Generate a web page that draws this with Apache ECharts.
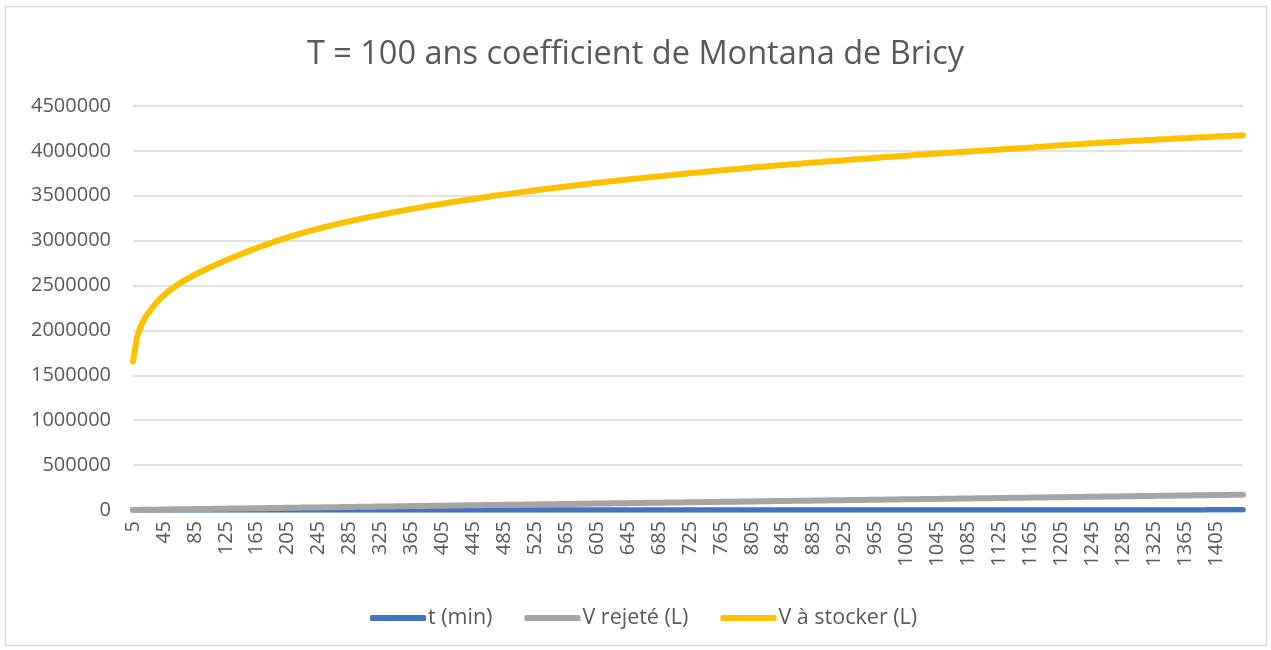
<!DOCTYPE html>
<html>
<head>
<meta charset="utf-8">
<script src="https://cdn.jsdelivr.net/npm/echarts@6/dist/echarts.min.js"></script>
<style>
html,body{margin:0;padding:0;background:#ffffff;}
#chart{width:1271px;height:650px;}
</style>
</head>
<body>
<div id="chart"></div>
<script>
const chartTitle = 'T = 100 ans coefficient de Montana de Bricy';
const seriesNames = ['t (min)', 'V rejeté (L)', 'V à stocker (L)'];

// t (min) categories
const tMinutes = [
5,10,15,20,25,30,35,40,45,50,
55,60,65,70,75,80,85,90,95,100,
105,110,115,120,125,130,135,140,145,150,
155,160,165,170,175,180,185,190,195,200,
205,210,215,220,225,230,235,240,245,250,
255,260,265,270,275,280,285,290,295,300,
305,310,315,320,325,330,335,340,345,350,
355,360,365,370,375,380,385,390,395,400,
405,410,415,420,425,430,435,440,445,450,
455,460,465,470,475,480,485,490,495,500,
505,510,515,520,525,530,535,540,545,550,
555,560,565,570,575,580,585,590,595,600,
605,610,615,620,625,630,635,640,645,650,
655,660,665,670,675,680,685,690,695,700,
705,710,715,720,725,730,735,740,745,750,
755,760,765,770,775,780,785,790,795,800,
805,810,815,820,825,830,835,840,845,850,
855,860,865,870,875,880,885,890,895,900,
905,910,915,920,925,930,935,940,945,950,
955,960,965,970,975,980,985,990,995,1000,
1005,1010,1015,1020,1025,1030,1035,1040,1045,1050,
1055,1060,1065,1070,1075,1080,1085,1090,1095,1100,
1105,1110,1115,1120,1125,1130,1135,1140,1145,1150,
1155,1160,1165,1170,1175,1180,1185,1190,1195,1200,
1205,1210,1215,1220,1225,1230,1235,1240,1245,1250,
1255,1260,1265,1270,1275,1280,1285,1290,1295,1300,
1305,1310,1315,1320,1325,1330,1335,1340,1345,1350,
1355,1360,1365,1370,1375,1380,1385,1390,1395,1400,
1405,1410,1415,1420,1425,1430,1435,1440
];

// V rejeté (L)
const vRejete = [
593,1185,1778,2370,2963,3555,4148,4740,5333,5925,
6518,7110,7703,8295,8888,9480,10073,10665,11258,11850,
12443,13035,13628,14220,14813,15405,15998,16590,17183,17775,
18368,18960,19553,20145,20738,21330,21923,22515,23108,23700,
24293,24885,25478,26070,26663,27255,27848,28440,29033,29625,
30218,30810,31403,31995,32588,33180,33773,34365,34958,35550,
36143,36735,37328,37920,38513,39105,39698,40290,40883,41475,
42068,42660,43253,43845,44438,45030,45623,46215,46808,47400,
47993,48585,49178,49770,50363,50955,51548,52140,52733,53325,
53918,54510,55103,55695,56288,56880,57473,58065,58658,59250,
59843,60435,61028,61620,62213,62805,63398,63990,64583,65175,
65768,66360,66953,67545,68138,68730,69323,69915,70508,71100,
71693,72285,72878,73470,74063,74655,75248,75840,76433,77025,
77618,78210,78803,79395,79988,80580,81173,81765,82358,82950,
83543,84135,84728,85320,85913,86505,87098,87690,88283,88875,
89468,90060,90653,91245,91838,92430,93023,93615,94208,94800,
95393,95985,96578,97170,97763,98355,98948,99540,100133,100725,
101318,101910,102503,103095,103688,104280,104873,105465,106058,106650,
107243,107835,108428,109020,109613,110205,110798,111390,111983,112575,
113168,113760,114353,114945,115538,116130,116723,117315,117908,118500,
119093,119685,120278,120870,121463,122055,122648,123240,123833,124425,
125018,125610,126203,126795,127388,127980,128573,129165,129758,130350,
130943,131535,132128,132720,133313,133905,134498,135090,135683,136275,
136868,137460,138053,138645,139238,139830,140423,141015,141608,142200,
142793,143385,143978,144570,145163,145755,146348,146940,147533,148125,
148718,149310,149903,150495,151088,151680,152273,152865,153458,154050,
154643,155235,155828,156420,157013,157605,158198,158790,159383,159975,
160568,161160,161753,162345,162938,163530,164123,164715,165308,165900,
166493,167085,167678,168270,168863,169455,170048,170640
];

// V à stocker (L)
const vStocker = [
1655000,1920000,2048000,2132000,2198000,2256000,2308000,2353000,2393000,2430000,
2463000,2494000,2522000,2549000,2574000,2598000,2621000,2643000,2664000,2685000,
2705000,2724000,2743000,2762000,2781000,2799000,2817000,2835000,2852000,2869000,
2886000,2903000,2919000,2935000,2950000,2965000,2980000,2995000,3009000,3023000,
3037000,3050000,3063000,3076000,3088000,3100000,3112000,3123000,3134000,3145000,
3156000,3166000,3176000,3187000,3197000,3206000,3216000,3226000,3235000,3244000,
3253000,3262000,3271000,3279000,3288000,3297000,3305000,3313000,3321000,3329000,
3337000,3345000,3353000,3360000,3368000,3375000,3383000,3390000,3397000,3404000,
3411000,3418000,3425000,3432000,3439000,3446000,3452000,3459000,3465000,3471000,
3478000,3484000,3490000,3497000,3503000,3509000,3515000,3521000,3526000,3532000,
3538000,3544000,3549000,3555000,3561000,3566000,3572000,3577000,3582000,3588000,
3593000,3598000,3603000,3609000,3614000,3619000,3624000,3629000,3634000,3639000,
3644000,3648000,3653000,3658000,3663000,3667000,3672000,3677000,3681000,3686000,
3691000,3695000,3700000,3704000,3708000,3713000,3717000,3721000,3726000,3730000,
3734000,3739000,3743000,3747000,3751000,3755000,3759000,3763000,3767000,3771000,
3775000,3779000,3783000,3787000,3791000,3795000,3798000,3802000,3806000,3810000,
3814000,3817000,3821000,3825000,3828000,3832000,3836000,3839000,3843000,3846000,
3850000,3853000,3857000,3860000,3864000,3867000,3871000,3874000,3877000,3881000,
3884000,3887000,3891000,3894000,3897000,3900000,3904000,3907000,3910000,3913000,
3916000,3920000,3923000,3926000,3929000,3932000,3935000,3938000,3941000,3944000,
3947000,3950000,3953000,3956000,3959000,3962000,3965000,3968000,3971000,3974000,
3977000,3980000,3982000,3985000,3988000,3991000,3994000,3996000,3999000,4002000,
4005000,4007000,4010000,4013000,4015000,4018000,4021000,4023000,4026000,4029000,
4032000,4035000,4039000,4041000,4045000,4047000,4051000,4053000,4057000,4060000,
4062000,4066000,4068000,4070000,4074000,4076000,4079000,4082000,4085000,4087000,
4090000,4092000,4095000,4098000,4100000,4102000,4105000,4107000,4109000,4112000,
4114000,4117000,4120000,4122000,4124000,4127000,4129000,4131000,4133000,4136000,
4138000,4140000,4142000,4144000,4147000,4149000,4151000,4153000,4155000,4158000,
4160000,4162000,4164000,4166000,4168000,4170000,4172000,4174000
];

const yTickMin = 0, yTickMax = 4500000, yTickStep = 500000;
const seriesColors = ['#4472C4', '#A5A5A5', '#FFC000'];

const FONT = '"Open Sans", "Noto Sans", sans-serif';
const TXT = '#595959';

const chart = echarts.init(document.getElementById('chart'), null, {renderer: 'canvas'});
chart.setOption({
  backgroundColor: '#ffffff',
  animation: false,
  title: {
    text: chartTitle,
    left: 'center',
    top: 33,
    textStyle: {fontFamily: FONT, fontSize: 32.5, fontWeight: 'normal', color: TXT}
  },
  graphic: [{
    type: 'rect',
    shape: {x: 5.5, y: 6.5, width: 1261, height: 639},
    style: {fill: 'none', stroke: '#d9d9d9', lineWidth: 1.5},
    silent: true, z: -10
  }],
  legend: {
    top: 602,
    left: 365,
    itemWidth: 56,
    itemHeight: 6,
    itemGap: 32,
    icon: 'roundRect',
    textStyle: {fontFamily: FONT, fontSize: 21.5, color: TXT, padding: [0, 0, 0, -3]},
    data: seriesNames
  },
  grid: {left: 133, right: 28, top: 106, bottom: 140, containLabel: false},
  xAxis: {
    type: 'category',
    boundaryGap: false,
    data: tMinutes,
    axisLine: {show: true, lineStyle: {color: '#d9d9d9', width: 1}},
    axisTick: {show: false},
    axisLabel: {interval: 7, rotate: 90, margin: 11, fontFamily: FONT, fontSize: 20, color: TXT}
  },
  yAxis: {
    type: 'value',
    min: yTickMin, max: yTickMax, interval: yTickStep,
    axisLine: {show: false},
    axisTick: {show: false},
    splitLine: {lineStyle: {color: '#d9d9d9', width: 1.5}},
    axisLabel: {margin: 22, fontFamily: FONT, fontSize: 20, color: TXT, formatter: v => String(v)}
  },
  series: [
    {name: seriesNames[0], type: 'line', data: tMinutes, showSymbol: false, symbol: 'none',
     lineStyle: {color: seriesColors[0], width: 5.5, cap: 'round'}, itemStyle: {color: seriesColors[0]}},
    {name: seriesNames[1], type: 'line', data: vRejete, showSymbol: false, symbol: 'none',
     lineStyle: {color: seriesColors[1], width: 6, cap: 'round'}, itemStyle: {color: seriesColors[1]}},
    {name: seriesNames[2], type: 'line', data: vStocker, showSymbol: false, symbol: 'none',
     lineStyle: {color: seriesColors[2], width: 6, cap: 'round'}, itemStyle: {color: seriesColors[2]}}
  ]
});
</script>
</body>
</html>
